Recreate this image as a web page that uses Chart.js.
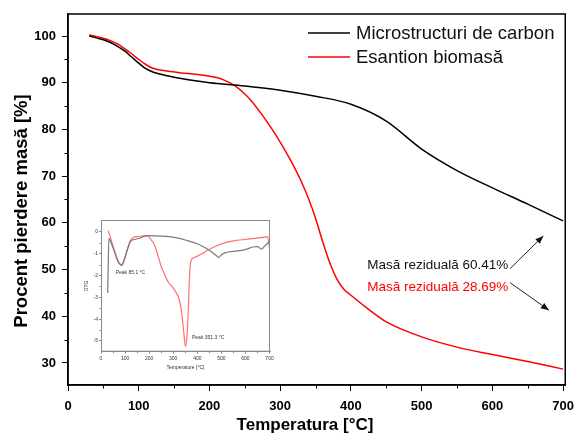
<!DOCTYPE html>
<html><head><meta charset="utf-8">
<script src="https://cdn.jsdelivr.net/npm/chart.js@4.4.0/dist/chart.umd.min.js"></script>
<style>
html,body{margin:0;padding:0;background:#fff;}
#wrap{position:relative;width:582px;height:435px;overflow:hidden;}
#main{position:absolute;left:0;top:0;}
#inset{position:absolute;left:76px;top:212px;}
</style></head><body>
<div id="wrap"><canvas id="main" width="582" height="435"></canvas><canvas id="inset" width="200" height="165"></canvas></div>
<script>
const FONT = '"Liberation Sans", Arial, Helvetica, sans-serif';

// ---- Main TGA data ----
const tempCarbon = [30, 40, 50, 60, 70, 80, 90, 100, 110, 120, 140, 160, 180, 200, 250, 300, 350, 400, 450, 500, 550, 600, 650, 700];
const massCarbon = [100, 99.6, 99.2, 98.6, 97.8, 96.8, 95.5, 94.2, 93.0, 92.3, 91.5, 90.9, 90.4, 90.0, 89.3, 88.4, 87.1, 85.4, 81.8, 75.8, 71.2, 67.5, 64.0, 60.41];

const tempBio = [30, 40, 50, 60, 70, 80, 90, 100, 110, 120, 140, 160, 180, 200, 210, 220, 230, 240, 250, 260, 275, 290, 300, 315, 330, 340, 350, 360, 370, 380, 390, 400, 425, 450, 500, 550, 600, 650, 700];
const massBio = [100.2, 99.9, 99.5, 99.0, 98.3, 97.3, 96.2, 95.0, 93.9, 93.1, 92.5, 92.1, 91.8, 91.4, 91.1, 90.6, 89.9, 88.9, 87.6, 86.0, 83.0, 79.7, 77.3, 73.3, 68.8, 65.2, 61.0, 56.0, 51.5, 48.0, 45.8, 44.5, 41.5, 38.8, 35.6, 33.4, 31.8, 30.3, 28.69];

const seriesLabels = ['Microstructuri de carbon', 'Esantion biomasă'];
const residueLabels = ['Masă reziduală 60.41%', 'Masă reziduală 28.69%'];
const xTitle = 'Temperatura [°C]';
const yTitle = 'Procent pierdere masă [%]';
const xTickValues = [0, 100, 200, 300, 400, 500, 600, 700];
const yTickValues = [30, 40, 50, 60, 70, 80, 90, 100];

// ---- Inset DTG data ----
const dtgTempCarbon = [28, 30, 33, 40, 50, 60, 70, 80, 85, 90, 100, 110, 120, 130, 140, 160, 180, 200, 250, 300, 350, 400, 450, 480, 490, 500, 520, 550, 600, 630, 650, 667, 680, 700];
const dtgCarbon = [-2.8, -1.5, -0.3, -0.45, -0.75, -1.05, -1.35, -1.5, -1.52, -1.45, -1.15, -0.8, -0.5, -0.38, -0.35, -0.3, -0.2, -0.18, -0.2, -0.25, -0.38, -0.55, -0.85, -1.1, -1.18, -1.05, -0.95, -0.9, -0.82, -0.7, -0.68, -0.8, -0.65, -0.45];

const dtgTempBio = [30, 40, 50, 60, 70, 80, 85, 90, 100, 110, 120, 135, 150, 170, 190, 200, 210, 220, 230, 242, 252, 262, 272, 283, 295, 310, 325, 335, 343, 351, 357, 362, 366, 370, 375, 385, 395, 420, 450, 470, 490, 510, 550, 600, 640, 680, 692, 700];
const dtgBio = [0.05, -0.3, -0.65, -1.0, -1.3, -1.5, -1.55, -1.5, -1.2, -0.8, -0.45, -0.25, -0.22, -0.2, -0.18, -0.25, -0.4, -0.55, -0.85, -1.3, -1.65, -1.9, -2.15, -2.37, -2.5, -2.75, -3.1, -3.7, -4.5, -5.25, -4.8, -3.8, -2.5, -1.6, -1.3, -1.2, -1.15, -1.0, -0.8, -0.7, -0.6, -0.52, -0.42, -0.35, -0.3, -0.25, -0.22, -0.75];

const insetXTicks = [0, 100, 200, 300, 400, 500, 600, 700];
const insetYTicks = [0, -1, -2, -3, -4, -5];
const peakLabels = ['Peak 85.1 °C', 'Peak 351.3 °C'];

const toXY = (xs, ys) => xs.map((v, i) => ({x: v, y: ys[i]}));

const mainDecor = {
  id: 'mainDecor',
  afterDatasetsDraw(chart) {
    const {ctx, chartArea: a, scales: {x, y}} = chart;
    ctx.save();
    ctx.strokeStyle = '#000';
    ctx.lineWidth = 1.5;
    ctx.strokeRect(a.left, a.top, a.right - a.left, a.bottom - a.top);
    // minor ticks
    ctx.lineWidth = 1;
    for (let v = 50; v < 700; v += 100) {
      const px = Math.round(x.getPixelForValue(v)) + 0.5;
      ctx.beginPath(); ctx.moveTo(px, a.bottom); ctx.lineTo(px, a.bottom + 3.5); ctx.stroke();
    }
    for (let v = 35; v < 104; v += 10) {
      const py = Math.round(y.getPixelForValue(v)) + 0.5;
      ctx.beginPath(); ctx.moveTo(a.left, py); ctx.lineTo(a.left - 3.5, py); ctx.stroke();
    }
    // axis titles
    ctx.fillStyle = '#000';
    ctx.textAlign = 'center';
    ctx.textBaseline = 'middle';
    ctx.font = 'bold 17px ' + FONT;
    ctx.fillText(xTitle, 305, 425);
    ctx.save();
    ctx.translate(22, 211);
    ctx.rotate(-Math.PI / 2);
    ctx.font = 'bold 18.5px ' + FONT;
    ctx.fillText(yTitle, 0, 0);
    ctx.restore();
    // legend
    ctx.font = '18.5px ' + FONT;
    ctx.textBaseline = 'middle';
    ctx.textAlign = 'left';
    chart.data.datasets.forEach((ds, i) => {
      const ly = 33 + i * 24;
      ctx.strokeStyle = ds.borderColor;
      ctx.lineWidth = 1.5;
      ctx.beginPath(); ctx.moveTo(308, ly); ctx.lineTo(350, ly); ctx.stroke();
      ctx.fillStyle = '#111';
      ctx.fillText(ds.label, 356, ly + 1);
    });
    // residue annotations
    ctx.font = '13.5px ' + FONT;
    ctx.fillStyle = '#111';
    ctx.fillText(residueLabels[0], x.getPixelForValue(423), y.getPixelForValue(50.9));
    ctx.fillStyle = '#ff0000';
    ctx.fillText(residueLabels[1], x.getPixelForValue(423), y.getPixelForValue(46.2));
    const arrow = (x0, y0, x1, y1) => {
      const X0 = x.getPixelForValue(x0), Y0 = y.getPixelForValue(y0);
      const X1 = x.getPixelForValue(x1), Y1 = y.getPixelForValue(y1);
      ctx.strokeStyle = '#222'; ctx.fillStyle = '#111'; ctx.lineWidth = 1;
      ctx.beginPath(); ctx.moveTo(X0, Y0); ctx.lineTo(X1, Y1); ctx.stroke();
      const ang = Math.atan2(Y1 - Y0, X1 - X0), L = 8, W = 3.2;
      ctx.beginPath();
      ctx.moveTo(X1, Y1);
      ctx.lineTo(X1 - L * Math.cos(ang) + W * Math.sin(ang), Y1 - L * Math.sin(ang) - W * Math.cos(ang));
      ctx.lineTo(X1 - L * Math.cos(ang) - W * Math.sin(ang), Y1 - L * Math.sin(ang) + W * Math.cos(ang));
      ctx.closePath(); ctx.fill();
    };
    arrow(625, 50.2, 672, 57.2);
    arrow(625, 47.2, 680, 41.3);
    ctx.restore();
  }
};

new Chart(document.getElementById('main'), {
  type: 'line',
  data: {
    datasets: [
      {label: seriesLabels[0], data: toXY(tempCarbon, massCarbon), borderColor: '#000000', borderWidth: 1.5, pointRadius: 0, cubicInterpolationMode: 'monotone'},
      {label: seriesLabels[1], data: toXY(tempBio, massBio), borderColor: '#ff0000', borderWidth: 1.5, pointRadius: 0, cubicInterpolationMode: 'monotone'}
    ]
  },
  options: {
    responsive: false, animation: false, devicePixelRatio: 1,
    layout: {padding: {top: 14, right: 9, left: 0, bottom: 0}},
    plugins: {legend: {display: false}, tooltip: {enabled: false}},
    scales: {
      x: {
        type: 'linear', min: 0, max: 703,
        afterBuildTicks: s => { s.ticks = xTickValues.map(v => ({value: v})); },
        afterFit: s => { s.height = 50; },
        grid: {drawOnChartArea: false, drawTicks: true, tickLength: 6, color: '#000', lineWidth: 1},
        border: {display: true, color: '#000', width: 1.5},
        ticks: {font: {family: FONT, size: 13, weight: 'bold'}, color: '#000', padding: 8, maxRotation: 0},
        title: {display: false}
      },
      y: {
        type: 'linear', min: 25.29, max: 104.71,
        afterBuildTicks: s => { s.ticks = yTickValues.map(v => ({value: v})); },
        afterFit: s => { s.width = 68; },
        grid: {drawOnChartArea: false, drawTicks: true, tickLength: 6, color: '#000', lineWidth: 1},
        border: {display: true, color: '#000', width: 1.5},
        ticks: {font: {family: FONT, size: 13, weight: 'bold'}, color: '#000', padding: 6},
        title: {display: false}
      }
    }
  },
  plugins: [mainDecor]
});

const insetDecor = {
  id: 'insetDecor',
  afterDatasetsDraw(chart) {
    const {ctx, chartArea: a, scales: {x, y}} = chart;
    ctx.save();
    ctx.strokeStyle = '#8a8a8a';
    ctx.lineWidth = 1;
    ctx.strokeRect(a.left + 0.5, a.top + 0.5, a.right - a.left - 1, a.bottom - a.top - 1);
    for (let v = 50; v < 700; v += 100) {
      const px = Math.round(x.getPixelForValue(v)) + 0.5;
      ctx.beginPath(); ctx.moveTo(px, a.bottom); ctx.lineTo(px, a.bottom + 1.5); ctx.stroke();
    }
    for (let v = -0.5; v > -5.5; v -= 1) {
      const py = Math.round(y.getPixelForValue(v)) + 0.5;
      ctx.beginPath(); ctx.moveTo(a.left, py); ctx.lineTo(a.left - 1.5, py); ctx.stroke();
    }
    ctx.font = '5px ' + FONT;
    ctx.fillStyle = '#333';
    ctx.textBaseline = 'middle';
    ctx.textAlign = 'left';
    ctx.fillText(peakLabels[0], x.getPixelForValue(61), y.getPixelForValue(-1.86));
    ctx.fillText(peakLabels[1], x.getPixelForValue(378), y.getPixelForValue(-4.85));
    ctx.restore();
  }
};

new Chart(document.getElementById('inset'), {
  type: 'line',
  data: {
    datasets: [
      {label: seriesLabels[0], data: toXY(dtgTempCarbon, dtgCarbon), borderColor: '#7a7a7a', borderWidth: 1.2, pointRadius: 0, cubicInterpolationMode: 'monotone'},
      {label: seriesLabels[1], data: toXY(dtgTempBio, dtgBio), borderColor: '#ff7070', borderWidth: 1.2, pointRadius: 0, cubicInterpolationMode: 'monotone'}
    ]
  },
  options: {
    responsive: false, animation: false, devicePixelRatio: 1,
    layout: {padding: {top: 8, right: 6, left: 0, bottom: 0}},
    plugins: {legend: {display: false}, tooltip: {enabled: false}},
    scales: {
      x: {
        type: 'linear', min: 0, max: 702,
        afterBuildTicks: s => { s.ticks = insetXTicks.map(v => ({value: v})); },
        afterFit: s => { s.height = 25.3; },
        grid: {drawOnChartArea: false, drawTicks: true, tickLength: 2, color: '#8a8a8a', lineWidth: 1},
        border: {display: true, color: '#8a8a8a', width: 1},
        ticks: {font: {family: FONT, size: 5}, color: '#333', padding: 2, maxRotation: 0, autoSkip: false},
        title: {display: true, text: 'Temperature [°C]', font: {family: FONT, size: 5}, color: '#333', padding: {top: 0, bottom: 6}}
      },
      y: {
        type: 'linear', min: -5.49, max: 0.537,
        afterBuildTicks: s => { s.ticks = insetYTicks.map(v => ({value: v})); },
        afterFit: s => { s.width = 25; },
        grid: {drawOnChartArea: false, drawTicks: true, tickLength: 2, color: '#8a8a8a', lineWidth: 1},
        border: {display: true, color: '#8a8a8a', width: 1},
        ticks: {font: {family: FONT, size: 5}, color: '#333', padding: 1, autoSkip: false},
        title: {display: true, text: 'DTG', font: {family: FONT, size: 5}, color: '#333', padding: {top: 8, bottom: 0}}
      }
    }
  },
  plugins: [insetDecor]
});
</script>
</body></html>
